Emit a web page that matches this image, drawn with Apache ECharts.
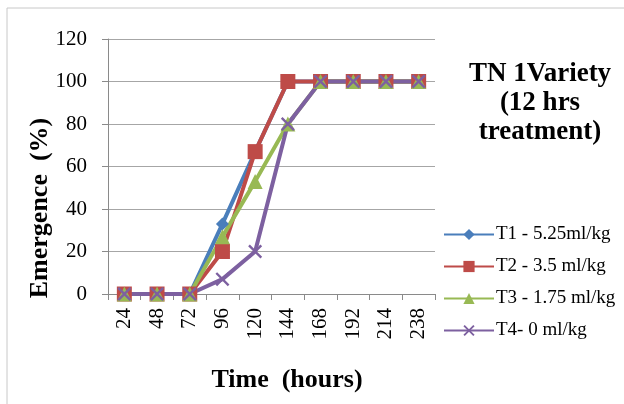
<!DOCTYPE html>
<html>
<head>
<meta charset="utf-8">
<script src="https://cdn.jsdelivr.net/npm/echarts@6/dist/echarts.min.js"></script>
<style>
  html, body { margin: 0; padding: 0; background: #fff; }
  #chart { width: 624px; height: 404px; }
</style>
</head>
<body>
<div id="chart"></div>
<script>
const hours = ['24', '48', '72', '96', '120', '144', '168', '192', '214', '238']
const t1 = [0, 0, 0, 33, 67, 100, 100, 100, 100, 100]
const t2 = [0, 0, 0, 20, 67, 100, 100, 100, 100, 100]
const t3 = [0, 0, 0, 27, 53, 80, 100, 100, 100, 100]
const t4 = [0, 0, 0, 7, 20, 80, 100, 100, 100, 100]
const seriesNames = ['T1 - 5.25ml/kg', 'T2 - 3.5 ml/kg', 'T3 - 1.75 ml/kg', 'T4- 0 ml/kg']

const serif = "'Liberation Serif', 'Times New Roman', serif"
const crossPath = 'path://M0,1.2 L1.2,0 L10,8.8 L8.8,10 Z M8.8,0 L10,1.2 L1.2,10 L0,8.8 Z'

const chart = echarts.init(document.getElementById('chart'))

const makeSeries = (name, data, color, symbol, size) => ({
  name,
  type: 'line',
  data,
  symbol,
  symbolSize: size,
  lineStyle: { width: 4, color },
  itemStyle: { color },
  emphasis: { disabled: true },
})

chart.setOption({
  animation: false,
  textStyle: { fontFamily: serif },
  graphic: [{
    type: 'rect',
    shape: { x: 7, y: 8, width: 640, height: 420 },
    style: { fill: 'none', stroke: '#c8c8c8', lineWidth: 1 },
  }, {
    type: 'text',
    x: 540,
    y: 60,
    style: {
      text: 'TN 1Variety\n(12 hrs\ntreatment)',
      font: "bold 27px 'Liberation Serif', serif",
      fill: '#000',
      align: 'center',
      lineHeight: 29,
    },
  }, {
    // axis titles sit off-centre in the original, so place them by hand
    type: 'text',
    x: 40,
    y: 208,
    rotation: Math.PI / 2,
    style: {
      text: 'Emergence  (%)',
      font: "bold 26px 'Liberation Serif', serif",
      fill: '#000',
      align: 'center',
      verticalAlign: 'middle',
    },
  }, {
    type: 'text',
    x: 287,
    y: 380,
    style: {
      text: 'Time  (hours)',
      font: "bold 26px 'Liberation Serif', serif",
      fill: '#000',
      align: 'center',
      verticalAlign: 'middle',
    },
  }],
  grid: { left: 108, right: 189, top: 39, bottom: 110 },
  legend: {
    orient: 'vertical',
    left: 443,
    top: 225,
    padding: 0,
    itemWidth: 50,
    itemHeight: 14,
    itemGap: 13,
    textStyle: { fontFamily: serif, fontSize: 19, color: '#000', padding: [0, 0, 0, -3] },
    data: seriesNames,
  },
  xAxis: {
    type: 'category',
    data: hours,
    boundaryGap: true,
    axisLine: { lineStyle: { color: '#8a8a8a', width: 1 } },
    axisTick: { show: true, length: 6, lineStyle: { color: '#8a8a8a' } },
    axisLabel: { rotate: 90, fontFamily: serif, fontSize: 21, color: '#000', margin: 14 },
  },
  yAxis: {
    type: 'value',
    min: 0,
    max: 120,
    interval: 20,
    axisLine: { show: true, lineStyle: { color: '#8a8a8a', width: 1 } },
    axisTick: { show: true, length: 6, lineStyle: { color: '#8a8a8a' } },
    axisLabel: { fontFamily: serif, fontSize: 21, color: '#000', margin: 21 },
    splitLine: { lineStyle: { color: '#a6a6a6', width: 1 } },
  },
  series: [
    makeSeries(seriesNames[0], t1, '#4a7ebb', 'diamond', 13),
    makeSeries(seriesNames[1], t2, '#be4b48', 'rect', 15),
    makeSeries(seriesNames[2], t3, '#98b954', 'triangle', 15),
    makeSeries(seriesNames[3], t4, '#7d60a0', crossPath, 14),
  ],
})
</script>
</body>
</html>
